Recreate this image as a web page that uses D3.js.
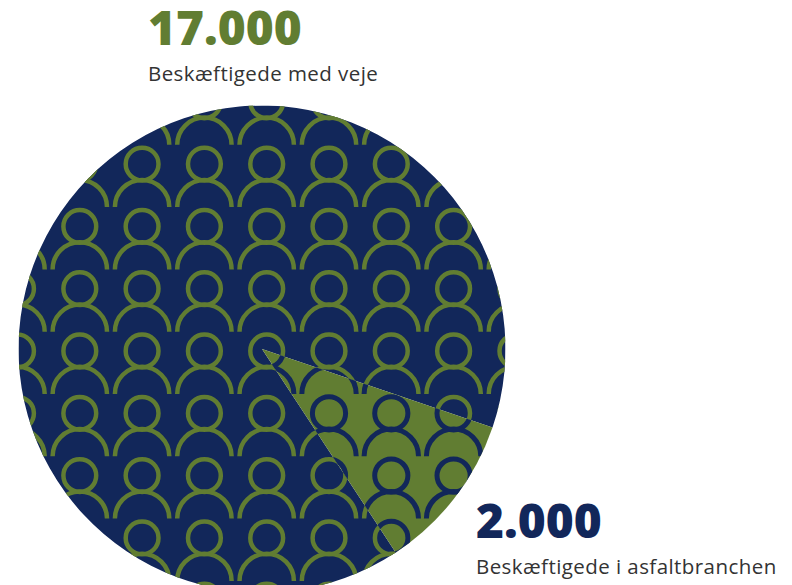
<!DOCTYPE html>
<html><head><meta charset="utf-8">
<script src="https://cdn.jsdelivr.net/npm/d3@7/dist/d3.min.js"></script>
<style>html,body{margin:0;padding:0;background:#fff}svg{display:block}</style>
</head><body><svg id="c" width="792" height="585"></svg>
<script>
const categories = ["Beskæftigede med veje", "Beskæftigede i asfaltbranchen"];
const values = [17000, 2000];
const valueLabels = ["17.000", "2.000"];
const gridColumns = [-4,-3,-2,-1,0,1,2,3,4];
const gridRows = [-4,-3,-2,-1,0,1,2,3,4];
const navy = "#12275a", green = "#617d32", textColor = "#333333";

const svg = d3.select("#c");
const cx = 262, cy = 349, R = 243.5;
const defs = svg.append("defs");
const pie = d3.pie().sort(null).value(d => d)
  .startAngle(146.7 * Math.PI / 180)
  .endAngle((146.7 + 360) * Math.PI / 180);
const arcs = pie(values);
const arc = d3.arc().innerRadius(0).outerRadius(R);

defs.append("clipPath").attr("id", "clipBig")
  .append("path").attr("transform", `translate(${cx},${cy})`).attr("d", arc(arcs[0]));
defs.append("clipPath").attr("id", "clipSmall")
  .append("path").attr("transform", `translate(${cx},${cy})`).attr("d", arc(arcs[1]));

const x = d3.scaleLinear().domain([0, 1]).range([266.7, 329]);
const y = d3.scaleLinear().domain([0, 1]).range([351, 413.3]);
const cells = gridRows.flatMap(r => gridColumns.map(c => ({r, c})));

function people(g, color, sw, headR, shoulderR) {
  const p = g.selectAll("g.p").data(cells).join("g").attr("class", "p")
    .attr("transform", d => `translate(${x(d.c)},${y(d.r)})`)
    .attr("fill", "none").attr("stroke", color).attr("stroke-width", sw);
  p.append("circle").attr("r", headR);
  p.append("path").attr("d", `M${-shoulderR},43 A${shoulderR},${shoulderR} 0 0 1 ${shoulderR},43`);
}

const big = svg.append("g").attr("clip-path", "url(#clipBig)");
big.append("rect").attr("x", cx - R).attr("y", cy - R).attr("width", 2 * R).attr("height", 2 * R).attr("fill", navy);
people(big, green, 4.5, 16.4, 27.2);

const small = svg.append("g").attr("clip-path", "url(#clipSmall)");
small.append("rect").attr("x", cx - R).attr("y", cy - R).attr("width", 2 * R).attr("height", 2 * R).attr("fill", green);
people(small, navy, 5, 16.6, 27.2);

const font = "'Open Sans', sans-serif";
const labelPos = [{x:148, y1:45, y2:81}, {x:476, y1:538, y2:574}];
const bigColors = [green, navy];
categories.forEach((t, i) => {
  svg.append("text").attr("x", labelPos[i].x).attr("y", labelPos[i].y1)
    .attr("font-family", font).attr("font-weight", 800).attr("font-size", 47.8)
    .attr("fill", bigColors[i]).text(valueLabels[i]);
  svg.append("text").attr("x", labelPos[i].x).attr("y", labelPos[i].y2)
    .attr("font-family", font).attr("font-size", 20.5)
    .attr("letter-spacing", 0.43).attr("fill", textColor).text(t);
});
</script></body></html>
